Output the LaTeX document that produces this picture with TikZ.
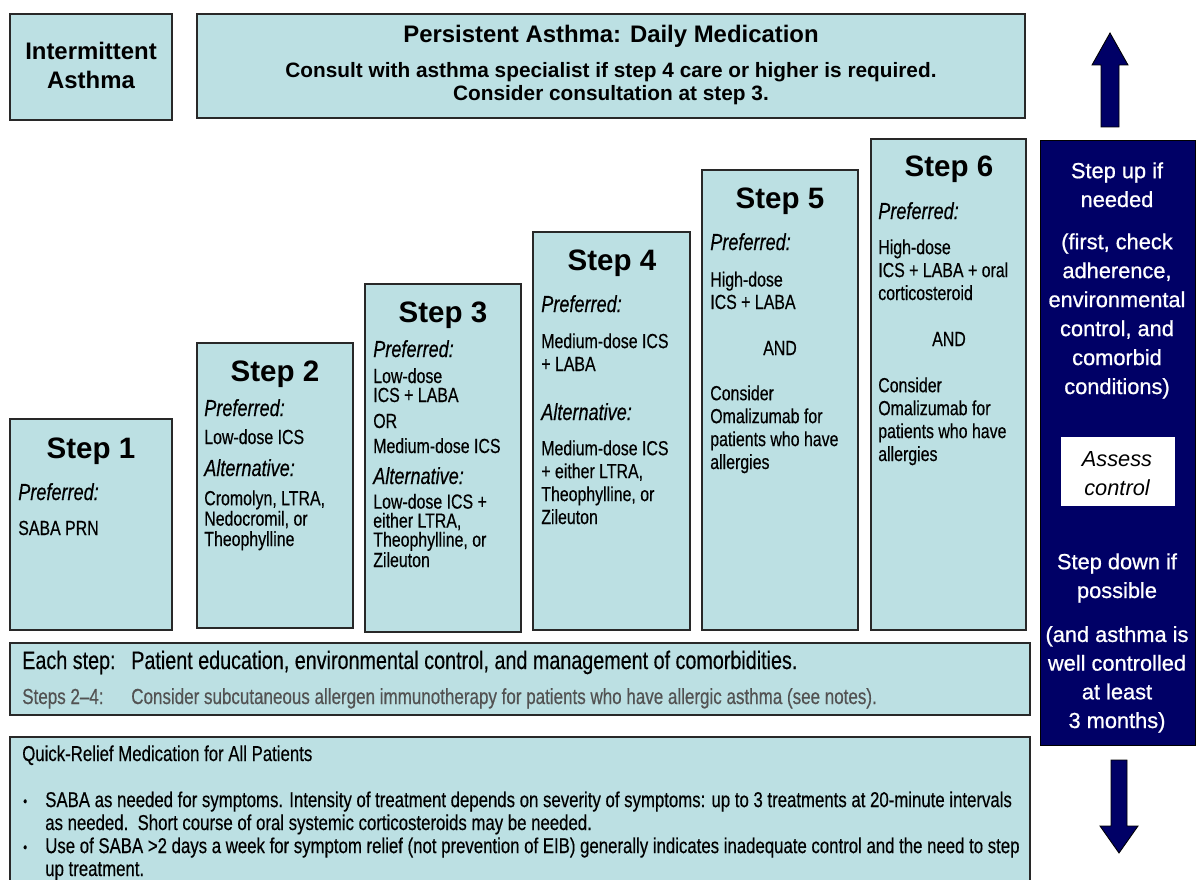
\documentclass[tikz,border=0pt]{standalone}
\usepackage{fontspec}
\setmainfont{Liberation Sans}
\newfontfamily\nar[FakeStretch=0.78, FakeBold=0.4]{Liberation Sans}
\newfontfamily\sidefont[FakeBold=0.8]{Liberation Sans}
\usetikzlibrary{fit}

\definecolor{boxfill}{RGB}{188,224,227}
\definecolor{navy}{RGB}{0,0,102}
\definecolor{edge}{RGB}{40,40,40}

\tikzset{
  panel/.style={draw=edge, fill=boxfill, line width=0.9pt, inner sep=0pt},
  steptitle/.style={font=\bfseries\fontsize{21}{24}\selectfont, anchor=base, inner sep=0pt},
  pref/.style={font=\nar\itshape\fontsize{16.5}{19}\selectfont, anchor=base west, inner sep=0pt},
  body/.style={font=\nar\fontsize{14.5}{#1}\selectfont, anchor=base west, align=left, inner sep=0pt},
  body/.default=14.5,
  side/.style={font=\sidefont\fontsize{15.5}{20.5}\selectfont, text=white, align=center, anchor=base, inner sep=0pt},
  relief/.style={font=\nar\fontsize{15.3}{16.3}\selectfont, anchor=base west, align=left, inner sep=0pt},
}

\begin{document}
\begin{tikzpicture}[x=0.025cm, y=-0.025cm]
\useasboundingbox (0,0) rectangle (1196,880);
\clip (0,0) rectangle (1196,880);

% header boxes (multi-line nodes sit on their last baseline)
\node[panel, fit={(10,14) (172,120)}] (inter) {};
\node[panel, fit={(197,14) (1025,118)}] (persist) {};
\node[font=\bfseries\fontsize{17}{21.3}\selectfont, align=center, anchor=base, inner sep=0pt] (intertxt) at (91,89) {Intermittent\\Asthma};
\node[font=\bfseries\fontsize{17}{20}\selectfont, anchor=base, inner sep=0pt] (persisttxt) at (611,43) {Persistent Asthma: Daily Medication};
\node[font=\bfseries\fontsize{14.8}{17}\selectfont, align=center, anchor=base, inner sep=0pt] (consult) at (611,101) {Consult with asthma specialist if step 4 care or higher is required.\\Consider consultation at step 3.};

% the six steps
\node[panel, fit={(10,419) (172,630)}] (s1) {};
\node[panel, fit={(197,343) (353,628)}] (s2) {};
\node[panel, fit={(365,284) (521,632)}] (s3) {};
\node[panel, fit={(533,232) (690,630)}] (s4) {};
\node[panel, fit={(702,170) (858,630)}] (s5) {};
\node[panel, fit={(871,139) (1026,630)}] (s6) {};

% step 1
\node[steptitle] (t1) at (91,458) {Step 1};
\node[pref] (p1) at (18,500) {Preferred:};
\node[body] (b1) at (18,535) {SABA PRN};

% step 2
\node[steptitle] (t2) at (275,381) {Step 2};
\node[pref] (p2) at (204,416) {Preferred:};
\node[body] (b2) at (204,444) {Low-dose ICS};
\node[pref] (a2) at (204,476) {Alternative:};
\node[body=14.5] (c2) at (204,546) {Cromolyn, LTRA,\\Nedocromil, or\\Theophylline};

% step 3
\node[steptitle] (t3) at (443,322) {Step 3};
\node[pref] (p3) at (373,357) {Preferred:};
\node[body=13.5] (b3) at (373,402) {Low-dose\\ICS + LABA};
\node[body] (or3) at (373,428) {OR};
\node[body] (m3) at (373,453) {Medium-dose ICS};
\node[pref] (a3) at (373,484) {Alternative:};
\node[body=13.5] (c3) at (373,567) {Low-dose ICS +\\either LTRA,\\Theophylline, or\\Zileuton};

% step 4
\node[steptitle] (t4) at (612,270) {Step 4};
\node[pref] (p4) at (541,312) {Preferred:};
\node[body=16.3] (b4) at (541,371) {Medium-dose ICS\\+ LABA};
\node[pref] (a4) at (541,420) {Alternative:};
\node[body=16.3] (c4) at (541,524) {Medium-dose ICS\\+ either LTRA,\\Theophylline, or\\Zileuton};

% step 5
\node[steptitle] (t5) at (780,208) {Step 5};
\node[pref] (p5) at (710,250) {Preferred:};
\node[body=16] (b5) at (710,309) {High-dose\\ICS + LABA};
\node[body, anchor=base] (and5) at (780,355) {AND};
\node[body=16.3] (c5) at (710,469) {Consider\\Omalizumab for\\patients who have\\allergies};

% step 6
\node[steptitle] (t6) at (949,177) {Step 6};
\node[pref] (p6) at (878,219) {Preferred:};
\node[body=16.3] (b6) at (878,300) {High-dose\\ICS + LABA + oral\\corticosteroid};
\node[body, anchor=base] (and6) at (949,346) {AND};
\node[body=16.3] (c6) at (878,461) {Consider\\Omalizumab for\\patients who have\\allergies};

% every step
\node[panel, fit={(10,643) (1030,715)}] (each) {};
\node[font=\nar\fontsize{18}{20}\selectfont, anchor=base west, inner sep=0pt] (eachlbl) at (22,669) {Each step:};
\node[font=\nar\fontsize{18}{20}\selectfont, anchor=base west, inner sep=0pt] (eachtxt) at (131,669) {Patient education, environmental control, and management of comorbidities.};
\node[font=\nar\fontsize{15.5}{18}\selectfont, text=black!68, anchor=base west, inner sep=0pt] (immlbl) at (22,704) {Steps 2–4:};
\node[font=\nar\fontsize{15.5}{18}\selectfont, text=black!68, anchor=base west, inner sep=0pt] (immtxt) at (131,704) {Consider subcutaneous allergen immunotherapy for patients who have allergic asthma (see notes).};

% quick relief
\node[panel, fit={(10,737) (1030,895)}] (relief) {};
\node[relief] (relieftitle) at (22,761) {Quick-Relief Medication for All Patients};
\node[relief, font=\nar\fontsize{10}{12}\selectfont] (dot1) at (23,806) {•};
\node[relief] (rel1) at (45,830) {SABA as needed for symptoms. Intensity of treatment depends on severity of symptoms: up to 3 treatments at 20-minute intervals\\as needed.\ \ Short course of oral systemic corticosteroids may be needed.};
\node[relief, font=\nar\fontsize{10}{12}\selectfont] (dot2) at (23,852) {•};
\node[relief] (rel2) at (45,876) {Use of SABA >2 days a week for symptom relief (not prevention of EIB) generally indicates inadequate control and the need to step\\up treatment.};

% assess control column
\node[draw=black, fill=navy, inner sep=0pt, fit={(1040,140) (1195,745)}] (ctrl) {};
\node[side] (up) at (1117,207) {Step up if\\needed};
\node[side, font=\sidefont\fontsize{15.5}{20.6}\selectfont] (upnote) at (1117,394) {(first, check\\adherence,\\environmental\\control, and\\comorbid\\conditions)};
\node[fill=white, inner sep=0pt, fit={(1061,437) (1175,506)}] (assess) {};
\node[side, text=black, font=\itshape\fontsize{15.5}{20.6}\selectfont] (assesstxt) at (1117,495) {Assess\\control};
\node[side] (down) at (1117,598) {Step down if\\possible};
\node[side, font=\sidefont\fontsize{15.5}{20.4}\selectfont] (downnote) at (1117,728) {(and asthma is\\well controlled\\at least\\3 months)};

% big arrows
\filldraw[fill=navy, draw=black, line width=0.6pt] (1101,127) -- (1101,65) -- (1092,65) -- (1110,33) -- (1128,65) -- (1119,65) -- (1119,127) -- cycle;
\filldraw[fill=navy, draw=black, line width=0.6pt] (1111,760) -- (1111,826) -- (1100,826) -- (1119,853) -- (1138,826) -- (1127,826) -- (1127,760) -- cycle;
\end{tikzpicture}
\end{document}
